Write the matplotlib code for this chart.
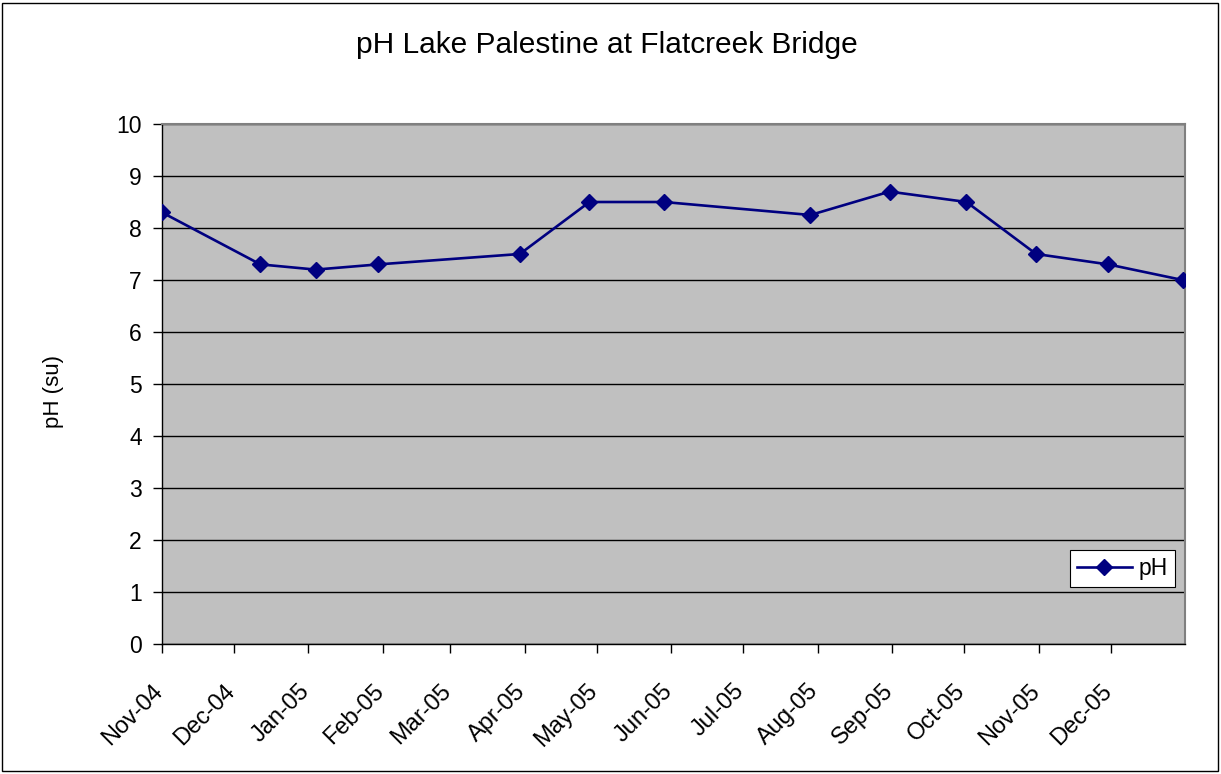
import datetime
import matplotlib
matplotlib.use("Agg")
import matplotlib.pyplot as plt
import matplotlib.dates as mdates
import matplotlib.transforms as mtransforms
from matplotlib.patches import Rectangle

plt.rcParams['font.family'] = ['Liberation Sans', 'DejaVu Sans']

# sample dates and pH readings
dates = ['2004-11-01', '2004-12-12', '2005-01-04', '2005-01-30', '2005-03-30',
         '2005-04-28', '2005-05-29', '2005-07-29', '2005-08-31', '2005-10-02',
         '2005-10-31', '2005-11-30', '2005-12-31']
ph = [8.3, 7.3, 7.2, 7.3, 7.5, 8.5, 8.5, 8.25, 8.7, 8.5, 7.5, 7.3, 7.0]

tick_months = ['2004-11-01', '2004-12-01', '2005-01-01', '2005-02-01', '2005-03-01',
               '2005-04-01', '2005-05-01', '2005-06-01', '2005-07-01', '2005-08-01',
               '2005-09-01', '2005-10-01', '2005-11-01', '2005-12-01']

x = [datetime.datetime.strptime(d, '%Y-%m-%d') for d in dates]
ticks = [datetime.datetime.strptime(d, '%Y-%m-%d') for d in tick_months]

W, H = 1221, 774
fig = plt.figure(figsize=(W / 100, H / 100), dpi=100)
ax = fig.add_axes([162 / W, 1 - 644 / H, (1185 - 162) / W, (644 - 124) / H])
ax.set_facecolor('#C0C0C0')

ax.plot(x, ph, color='#000080', lw=1.9, marker='D', markersize=8, label='pH', zorder=3)

ax.set_xlim(datetime.datetime(2004, 11, 1), datetime.datetime(2006, 1, 1))
ax.set_ylim(0, 10)
ax.set_yticks(range(0, 11))
ax.set_xticks(ticks)
ax.set_xticklabels([])
ax.tick_params(axis='both', direction='out', length=6.5, width=1, colors='black')
ax.tick_params(axis='y', pad=8, labelsize=16.5)
ax.grid(axis='y', color='black', lw=1)
ax.set_axisbelow(True)

# month labels, rotated and set a little left of each tick as in the original
lab_trans = ax.get_xaxis_transform() + mtransforms.ScaledTranslation(-10 / 100, -36 / 100,
                                                                      fig.dpi_scale_trans)
for t in ticks:
    ax.text(mdates.date2num(t), 0, t.strftime('%b-%y'), transform=lab_trans, fontsize=17,
            rotation=45, ha='right', va='top', rotation_mode='anchor', clip_on=False)

for side in ['left', 'bottom']:
    ax.spines[side].set_color('black')
    ax.spines[side].set_linewidth(1)
for side in ['top', 'right']:
    ax.spines[side].set_color('#808080')
    ax.spines[side].set_linewidth(1.5)

fig.text(54 / W, 1 - 392 / H, 'pH (su)', fontsize=16, rotation=90, ha='center', va='center')
fig.text(0.497, 1 - 45 / H, 'pH Lake Palestine at Flatcreek Bridge', fontsize=21.5,
         ha='center', va='center')

leg = ax.legend(loc='lower right', bbox_to_anchor=(0.99, 0.11), fontsize=16.5,
                frameon=True, fancybox=False, framealpha=1, edgecolor='black',
                borderpad=0.3, handlelength=2.4, handletextpad=0.3, borderaxespad=0)
leg.get_frame().set_linewidth(0.8)

fig.patches.append(Rectangle((2 / W, 3 / H), 1216 / W, 768 / H,
                             transform=fig.transFigure, fill=False, edgecolor='black', lw=1))

fig.savefig('out.png', dpi=100)
